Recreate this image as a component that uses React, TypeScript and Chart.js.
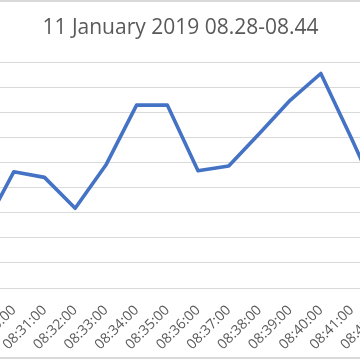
import React, { useEffect, useRef } from "react";
import { Chart, registerables } from "chart.js";

Chart.register(...registerables);

const chartTitle = "11 January 2019 08.28-08.44";

const times = [
  "08:28:00", "08:29:00", "08:30:00", "08:31:00", "08:32:00", "08:33:00",
  "08:34:00", "08:35:00", "08:36:00", "08:37:00", "08:38:00", "08:39:00",
  "08:40:00", "08:41:00", "08:42:00", "08:43:00", "08:44:00",
];

const values = [
  3.6, 2.33, 4.63, 4.41, 3.18, 4.9, 7.29, 7.29, 4.67, 4.86, 6.16, 7.48, 8.55,
  5.96, 3.27, 4.0, 5.0,
];

const yMin = 0;
const yMax = 9;
const yStep = 1;

const FONT = "'Open Sans', 'Liberation Sans', sans-serif";

export default function App() {
  const ref = useRef<HTMLCanvasElement>(null);

  useEffect(() => {
    if (!ref.current) return;
    const chart = new Chart(ref.current, {
      type: "line",
      data: {
        labels: times,
        datasets: [
          {
            data: values,
            borderColor: "#4472C4",
            backgroundColor: "#4472C4",
            borderWidth: 3.6,
            pointRadius: 0,
            pointHoverRadius: 0,
            tension: 0,
            fill: false,
            borderJoinStyle: "round",
            borderCapStyle: "round",
          },
        ],
      },
      options: {
        responsive: false,
        animation: false,
        devicePixelRatio: 1,
        layout: { padding: 0 },
        plugins: {
          legend: { display: false },
          tooltip: { enabled: false },
          title: {
            display: true,
            text: chartTitle,
            color: "#595959",
            font: { family: FONT, size: 21, weight: "normal" },
            padding: { top: 15, bottom: 22 },
          },
        },
        scales: {
          x: {
            offset: true,
            grid: { display: false, drawTicks: false },
            border: { display: false },
            ticks: {
              autoSkip: false,
              maxRotation: 45,
              minRotation: 45,
              color: "#595959",
              font: { family: FONT, size: 14 },
              padding: 14,
            },
            afterFit: (s: any) => {
              s.height = 72;
              s.paddingLeft = 0;
              s.paddingRight = 0;
            },
          },
          y: {
            min: yMin,
            max: yMax,
            ticks: { stepSize: yStep, display: false },
            grid: { color: "#D9D9D9", lineWidth: 1, drawTicks: false },
            border: { display: false },
            afterFit: (s: any) => {
              s.width = 35;
            },
          },
        },
      },
    });
    return () => chart.destroy();
  }, []);

  return (
    <div
      style={{
        position: "fixed",
        left: 0,
        top: 0,
        width: 360,
        height: 360,
        overflow: "hidden",
        background: "#ffffff",
      }}
    >
      <canvas
        ref={ref}
        width={557}
        height={360}
        style={{ position: "absolute", left: -98.5, top: 0, width: 557, height: 360 }}
      />
      <div style={{ position: "absolute", left: 0, top: 0, width: 360, height: 2, background: "#D9D9D9" }} />
      <div style={{ position: "absolute", left: 0, top: 357, width: 360, height: 2, background: "#D9D9D9" }} />
    </div>
  );
}
